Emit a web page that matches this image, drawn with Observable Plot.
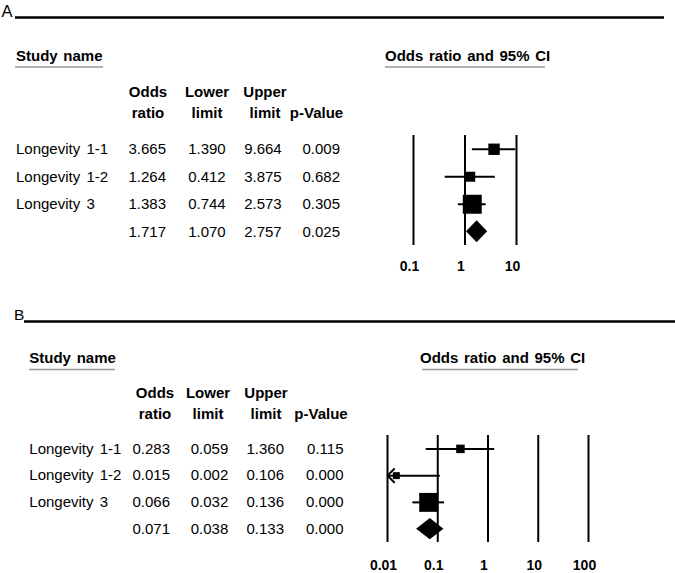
<!DOCTYPE html>
<html><head><meta charset="utf-8">
<script src="https://cdn.jsdelivr.net/npm/d3@7"></script>
<script src="https://cdn.jsdelivr.net/npm/@observablehq/plot@0.6"></script>
<style>
body{margin:0;background:#fff;}
#fig{position:relative;width:675px;height:573px;font-family:"Liberation Sans",Arial,sans-serif;overflow:hidden;}
#fig svg{position:absolute;left:0;top:0;}
</style></head><body><div id="fig"></div>
<script>
// ---- data ----
const studies = ["Longevity 1-1", "Longevity 1-2", "Longevity 3", ""];
const orA = [3.665, 1.264, 1.383, 1.717];
const loA = [1.390, 0.412, 0.744, 1.070];
const hiA = [9.664, 3.875, 2.573, 2.757];
const pA = [0.009, 0.682, 0.305, 0.025];
const weightA = [22, 17, 61];
const orB = [0.283, 0.015, 0.066, 0.071];
const loB = [0.059, 0.002, 0.032, 0.038];
const hiB = [1.360, 0.106, 0.136, 0.133];
const pB = [0.115, 0.000, 0.000, 0.000];
const weightB = [15, 10, 75];
const ticksA = [0.1, 1, 10];
const ticksB = [0.01, 0.1, 1, 10, 100];
const headTop = ["Odds", "Lower", "Upper", ""];
const headBottom = ["ratio", "limit", "limit", "p-Value"];
const leftTitle = "Study name";
const rightTitle = "Odds ratio and 95% CI";
const panelLabels = ["A", "B"];

// ---- layout ----
const W = 675, H = 573;
const FONT = "Liberation Sans, Arial, sans-serif";
const layoutA = {labelX: 1.5, labelBase: 16.5, labelSize: 16.5, lineY: 17.5, lineX: [15, 664], titleBase: 60.5, underY: 67,
  nameX: 16, leftUnder: [15, 103], rightX: 385, rightUnder: [385, 545], headBase: [96.5, 118],
  headX: [148, 207, 265, 316.5], colRight: [166, 225.7, 281.7, 340], frame: [135, 245], xRange: [413, 516],
  tickPad: 16, rMax: 10.7};
const layoutB = {labelX: 14, labelBase: 320, labelSize: 15.5, lineY: 321.5, lineX: [24, 675], titleBase: 363, underY: 369.5,
  nameX: 29.3, leftUnder: [29, 115], rightX: 420, rightUnder: [422, 578], headBase: [398, 419],
  headX: [155, 208, 266, 321], colRight: [170, 228.3, 284, 343.5], frame: [435, 542], xRange: [387, 588],
  tickPad: 18, rMax: 10.7};

const fig = document.getElementById("fig");
const overlay = d3.select(fig).append("svg").attr("width", W).attr("height", H)
  .attr("font-family", FONT);
const fmt = d3.format(".3f");

function forest(or, lo, hi, w, ticks, L) {
  const rows = or.map((d, i) => ({i, or: d, lo: lo[i], hi: hi[i], w: w[i]}));
  const studyRows = rows.slice(0, 3);
  const s = rows[3];
  const xmin = d3.min(ticks), xmax = d3.max(ticks);
  const full = studyRows.filter(d => d.lo >= xmin);
  const cut = studyRows.filter(d => d.lo < xmin);
  const h = 0.4;
  const diamond = [
    {y: s.i - h, x1: s.or, x2: s.or},
    {y: s.i, x1: s.lo, x2: s.hi},
    {y: s.i + h, x1: s.or, x2: s.or}
  ];
  return Plot.plot({
    width: W, height: H,
    marginTop: L.frame[0], marginBottom: H - L.frame[1], marginLeft: 0, marginRight: 0,
    style: {background: "transparent", fontFamily: FONT, overflow: "visible"},
    x: {type: "log", domain: [xmin, xmax], range: L.xRange, clamp: true},
    y: {domain: [3.5, -0.5], axis: null},
    r: {type: "sqrt", domain: [0, d3.max(w)], range: [0, L.rMax]},
    marks: [
      Plot.ruleX(ticks, {stroke: "#000", strokeWidth: 2}),
      Plot.ruleY(full, {y: "i", x1: "lo", x2: "hi", stroke: "#000", strokeWidth: 2}),
      Plot.arrow(cut, {x1: "hi", x2: "lo", y1: "i", y2: "i", stroke: "#000", strokeWidth: 2, headLength: 7, headAngle: 90}),
      Plot.dot(studyRows, {x: "or", y: "i", r: "w", symbol: "square", fill: "#000", stroke: "none"}),
      Plot.areaX(diamond, {y: "y", x1: "x1", x2: "x2", fill: "#000", curve: "linear"}),
      Plot.axisX({ticks, tickSize: 0, tickPadding: L.tickPad, tickFormat: d => String(d),
        fontSize: 14, fontWeight: "bold", dx: -4, label: null, fill: "#000"})
    ]
  });
}

function table(label, or, lo, hi, p, L, plot) {
  const y = plot.scale("y");
  const g = overlay.append("g").attr("fill", "#000");
  // panel label and rule
  g.append("text").attr("x", L.labelX).attr("y", L.labelBase).attr("font-size", L.labelSize).text(label);
  g.append("line").attr("x1", L.lineX[0]).attr("x2", L.lineX[1]).attr("y1", L.lineY).attr("y2", L.lineY)
    .attr("stroke", "#000").attr("stroke-width", 2.5);
  // section titles
  g.append("text").attr("x", L.nameX).attr("y", L.titleBase).attr("font-size", 15).attr("font-weight", "bold")
    .attr("word-spacing", 1.5).text(leftTitle);
  g.append("line").attr("x1", L.leftUnder[0]).attr("x2", L.leftUnder[1]).attr("y1", L.underY).attr("y2", L.underY)
    .attr("stroke", "#999").attr("stroke-width", 1.5);
  g.append("text").attr("x", L.rightX).attr("y", L.titleBase).attr("font-size", 15).attr("font-weight", "bold")
    .attr("word-spacing", 1.5).text(rightTitle);
  g.append("line").attr("x1", L.rightUnder[0]).attr("x2", L.rightUnder[1]).attr("y1", L.underY).attr("y2", L.underY)
    .attr("stroke", "#999").attr("stroke-width", 1.5);
  // column headers
  headTop.forEach((t, k) => {
    g.append("text").attr("x", L.headX[k]).attr("y", L.headBase[0]).attr("text-anchor", "middle")
      .attr("font-size", 15).attr("font-weight", "bold").text(t);
    g.append("text").attr("x", L.headX[k]).attr("y", L.headBase[1]).attr("text-anchor", "middle")
      .attr("font-size", 15).attr("font-weight", "bold").text(headBottom[k]);
  });
  // rows
  or.forEach((v, i) => {
    const yb = y.apply(i) + 5.3;
    g.append("text").attr("x", L.nameX).attr("y", yb).attr("font-size", 15).attr("word-spacing", 2).text(studies[i]);
    [v, lo[i], hi[i], p[i]].forEach((val, k) => {
      g.append("text").attr("x", L.colRight[k]).attr("y", yb).attr("text-anchor", "end")
        .attr("font-size", 15).text(fmt(val));
    });
  });
}

const plotA = forest(orA, loA, hiA, weightA, ticksA, layoutA);
const plotB = forest(orB, loB, hiB, weightB, ticksB, layoutB);
fig.appendChild(plotA);
fig.appendChild(plotB);
table(panelLabels[0], orA, loA, hiA, pA, layoutA, plotA);
table(panelLabels[1], orB, loB, hiB, pB, layoutB, plotB);
</script>
</body></html>
